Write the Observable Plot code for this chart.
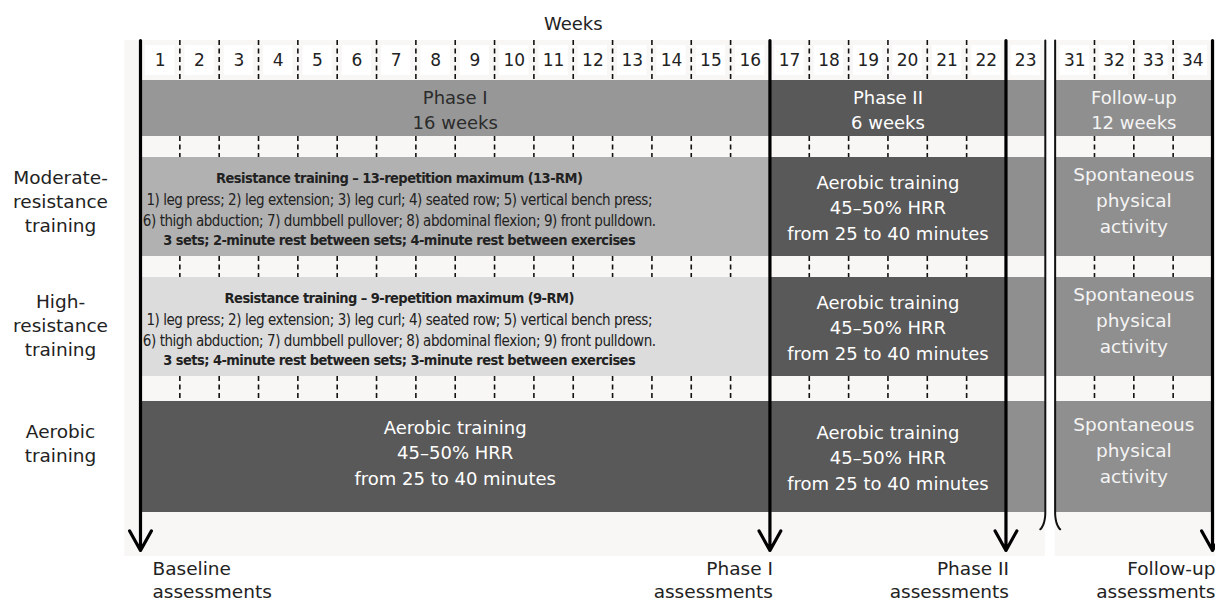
<!DOCTYPE html>
<html>
<head>
<meta charset="utf-8">
<script src="https://cdn.jsdelivr.net/npm/d3@7"></script>
<script src="https://cdn.jsdelivr.net/npm/@observablehq/plot@0.6"></script>
<style>
  body { margin: 0; background: #ffffff; }
  #chart svg { overflow: visible; }
  .narrow text { letter-spacing: -0.45px; }
  .narrow-bold text { letter-spacing: -0.55px; }
</style>
</head>
<body>
<div id="chart"></div>
<script>
// ---------------- DATA ----------------
const weeks = [1, 2, 3, 4, 5, 6, 7, 8, 9, 10, 11, 12, 13, 14, 15, 16, 17, 18, 19, 20, 21, 22, 23, 31, 32, 33, 34];
const axisTitle = "Weeks";

const phaseLabels = ["Phase I\n16 weeks", "Phase II\n6 weeks", "", "Follow-up\n12 weeks"];
const phaseFirstWeek = [1, 17, 23, 31];
const phaseLastWeek = [16, 22, 23, 34];

const groups = ["Moderate-\nresistance\ntraining", "High-\nresistance\ntraining", "Aerobic\ntraining"];
const phaseITitles = [
  "Resistance training – 13-repetition maximum (13-RM)",
  "Resistance training – 9-repetition maximum (9-RM)",
  ""
];
const exerciseList = "1) leg press; 2) leg extension; 3) leg curl; 4) seated row; 5) vertical bench press;\n6) thigh abduction; 7) dumbbell pullover; 8) abdominal flexion; 9) front pulldown.";
const phaseIExercises = [exerciseList, exerciseList, ""];
const phaseIRest = [
  "3 sets; 2-minute rest between sets; 4-minute rest between exercises",
  "3 sets; 4-minute rest between sets; 3-minute rest between exercises",
  ""
];
const phaseIPlain = ["", "", "Aerobic training\n45–50% HRR\nfrom 25 to 40 minutes"];
const phaseIIText = ["Aerobic training\n45–50% HRR\nfrom 25 to 40 minutes",
                     "Aerobic training\n45–50% HRR\nfrom 25 to 40 minutes",
                     "Aerobic training\n45–50% HRR\nfrom 25 to 40 minutes"];
const followUpText = ["Spontaneous\nphysical\nactivity", "Spontaneous\nphysical\nactivity", "Spontaneous\nphysical\nactivity"];

const assessmentLabels = ["Baseline\nassessments", "Phase I\nassessments", "Phase II\nassessments", "Follow-up\nassessments"];
const assessmentAfterWeek = [0, 16, 22, 34];

// ---------------- LAYOUT / STYLE (code, not data) ----------------
const GAP = 0.25; // break between week 23 and week 31
const startPos = w => (w <= 23 ? w - 1 : 23 + GAP + (w - 31));
const endPos = w => startPos(w) + 1;
const afterPos = w => (w === 0 ? 0 : endPos(w));
const xMax = endPos(34);

const layout = [["header", 40], ["phase", 56], ["strip", 21], ["band", 99], ["strip", 21], ["band", 99], ["strip", 25], ["band", 111]];
let acc = 0;
const rows = layout.map(([kind, h]) => { const r = {kind, y1: acc, y2: acc + h, yc: acc + h / 2}; acc += h; return r; });
const header = rows.find(r => r.kind === "header");
const phaseRow = rows.find(r => r.kind === "phase");
const strips = rows.filter(r => r.kind === "strip");
const bands = rows.filter(r => r.kind === "band");
const gridBottom = acc;
const arrowEnd = gridBottom + 38;

const FONT = "DejaVu Sans";
const NARROW = "'Liberation Sans Narrow', 'Arial Narrow', 'DejaVu Sans Condensed', sans-serif";
const phaseFill = ["#979797", "#595959", "#8f8f8f", "#8f8f8f"];
const phaseText = ["#2b2b2b", "#ffffff", "#ffffff", "#f4f4f4"];
const groupFill = ["#b1b1b1", "#dcdcdc", "#595959"];
const groupText = ["#222222", "#222222", "#ffffff"];
const groupLabelShift = [-7, -3, -15];

// ---------------- DERIVED TABLES ----------------
const phases = phaseLabels.map((label, i) => ({
  label, i, x1: startPos(phaseFirstWeek[i]), x2: endPos(phaseLastWeek[i])
}));

const segments = [];
groups.forEach((g, gi) => {
  phases.forEach((p, pi) => {
    segments.push({gi, pi, x1: p.x1, x2: p.x2, y1: bands[gi].y1, y2: bands[gi].y2,
      fill: pi === 0 ? groupFill[gi] : phaseFill[pi]});
  });
});

const boundaries = [];
phases.forEach((p, i) => {
  for (let w = phaseFirstWeek[i] + 1; w <= phaseLastWeek[i]; w++) boundaries.push(startPos(w));
});
const dashRows = [header, ...strips];
const dashes = dashRows.flatMap(r => boundaries.map(x => ({x, y1: r.y1, y2: r.y2})));

const groupRows = groups.map((g, gi) => ({
  g, gi, yc: bands[gi].yc, labelY: bands[gi].yc + groupLabelShift[gi],
  title: phaseITitles[gi], ex: phaseIExercises[gi], rest: phaseIRest[gi], plain: phaseIPlain[gi],
  p2: phaseIIText[gi], fu: followUpText[gi]
}));

const assessments = assessmentLabels.map((label, i) => ({
  label, i, x: afterPos(assessmentAfterWeek[i])
}));

const angles = d3.range(0, 1.25, 0.05);
const breakLeft = [{x: endPos(23), y: 0}, ...angles.map(a => ({x: endPos(23) - 0.2 * (1 - Math.cos(a)), y: gridBottom + 18 * Math.sin(a)}))];
const breakRight = [{x: startPos(31), y: 0}, ...angles.map(a => ({x: startPos(31) + 0.2 * (1 - Math.cos(a)), y: gridBottom + 18 * Math.sin(a)}))];

const midI = (startPos(1) + endPos(16)) / 2;
const midII = (startPos(17) + endPos(22)) / 2;
const midFU = (startPos(31) + endPos(34)) / 2;
const midIntervention = (startPos(1) + endPos(22)) / 2;
const resDx = -56; // the resistance text block sits left of the band centre

// ---------------- PLOT ----------------
const chart = Plot.plot({
  width: 1215,
  height: 602,
  marginTop: 40,
  marginBottom: 0,
  marginLeft: 140,
  marginRight: 3,
  x: {domain: [0, xMax], range: [140, 1212], axis: null},
  y: {domain: [0, 562], range: [40, 602], axis: null},
  style: {fontFamily: FONT, background: "transparent"},
  marks: [
    Plot.rect([{x1: -0.4, x2: endPos(23)}, {x1: startPos(31), x2: xMax + 0.1}], {
      x1: "x1", x2: "x2", y1: 0, y2: arrowEnd + 6, fill: "#f8f7f5"
    }),
    Plot.rect(weeks, {x1: d => startPos(d), x2: d => endPos(d), y1: header.y1, y2: header.y2,
      insetLeft: 5, insetRight: 5, insetTop: 5, insetBottom: 5, fill: "#ffffff"}),
    Plot.rect(phases, {x1: "x1", x2: "x2", y1: phaseRow.y1, y2: phaseRow.y2, fill: d => phaseFill[d.i]}),
    Plot.rect(segments, {x1: "x1", x2: "x2", y1: "y1", y2: "y2", fill: "fill"}),
    Plot.ruleX(dashes, {x: "x", y1: "y1", y2: "y2", stroke: "#111", strokeWidth: 1.6, strokeDasharray: "5,3.5"}),
    Plot.line(breakLeft, {x: "x", y: "y", stroke: "#111", strokeWidth: 2, curve: "monotone-y"}),
    Plot.line(breakRight, {x: "x", y: "y", stroke: "#111", strokeWidth: 2, curve: "monotone-y"}),
    Plot.arrow(assessments, {x1: "x", x2: "x", y1: 0, y2: arrowEnd, stroke: "#000", strokeWidth: 3.2,
      headLength: 10.5, headAngle: 58}),
    Plot.text([axisTitle], {x: midIntervention, y: -16, text: d => d, fontSize: 18, fill: "#222"}),
    Plot.text(weeks, {x: d => startPos(d) + 0.5, y: header.yc, text: d => String(d), fontSize: 17, fill: "#222"}),
    Plot.text(phases, {x: d => (d.x1 + d.x2) / 2, y: phaseRow.yc, text: "label", fontSize: 18, lineHeight: 1.38,
      fill: d => phaseText[d.i]}),
    Plot.text(groupRows, {frameAnchor: "left", dx: -80, textAnchor: "middle", y: "labelY", text: "g",
      fontSize: 18.5, lineHeight: 1.3, fill: "#222"}),
    Plot.text(groupRows.filter(d => d.title), {x: midI, dx: resDx, y: "yc", dy: -29, text: "title", fontFamily: NARROW,
      fontWeight: "bold", fontSize: 14.5, fill: d => groupText[d.gi], className: "narrow-bold"}),
    Plot.text(groupRows.filter(d => d.ex), {x: midI, dx: resDx, y: "yc", dy: 2, text: "ex", fontFamily: NARROW,
      fontSize: 15, lineHeight: 1.4, fill: d => groupText[d.gi], className: "narrow"}),
    Plot.text(groupRows.filter(d => d.rest), {x: midI, dx: resDx, y: "yc", dy: 33, text: "rest", fontFamily: NARROW,
      fontWeight: "bold", fontSize: 14.5, fill: d => groupText[d.gi], className: "narrow-bold"}),
    Plot.text(groupRows.filter(d => d.plain), {x: midI, y: "yc", dy: -6, text: "plain", fontSize: 18, lineHeight: 1.42,
      fill: d => groupText[d.gi]}),
    Plot.text(groupRows, {x: midII, y: "yc", dy: -1, text: "p2", fontSize: 18, lineHeight: 1.42, fill: "#ffffff"}),
    Plot.text(groupRows, {x: midFU, y: "yc", dy: -8, text: "fu", fontSize: 18.5, lineHeight: 1.4, fill: "#f4f4f4"}),
    Plot.text(assessments.filter(d => d.i === 0), {x: "x", y: arrowEnd + 29, text: "label", fontSize: 18.5,
      lineHeight: 1.22, fill: "#222", textAnchor: "start", dx: 12}),
    Plot.text(assessments.filter(d => d.i !== 0), {x: "x", y: arrowEnd + 29, text: "label", fontSize: 18.5,
      lineHeight: 1.22, fill: "#222", textAnchor: "end", dx: 3})
  ]
});
document.getElementById("chart").appendChild(chart);
</script>
</body>
</html>
